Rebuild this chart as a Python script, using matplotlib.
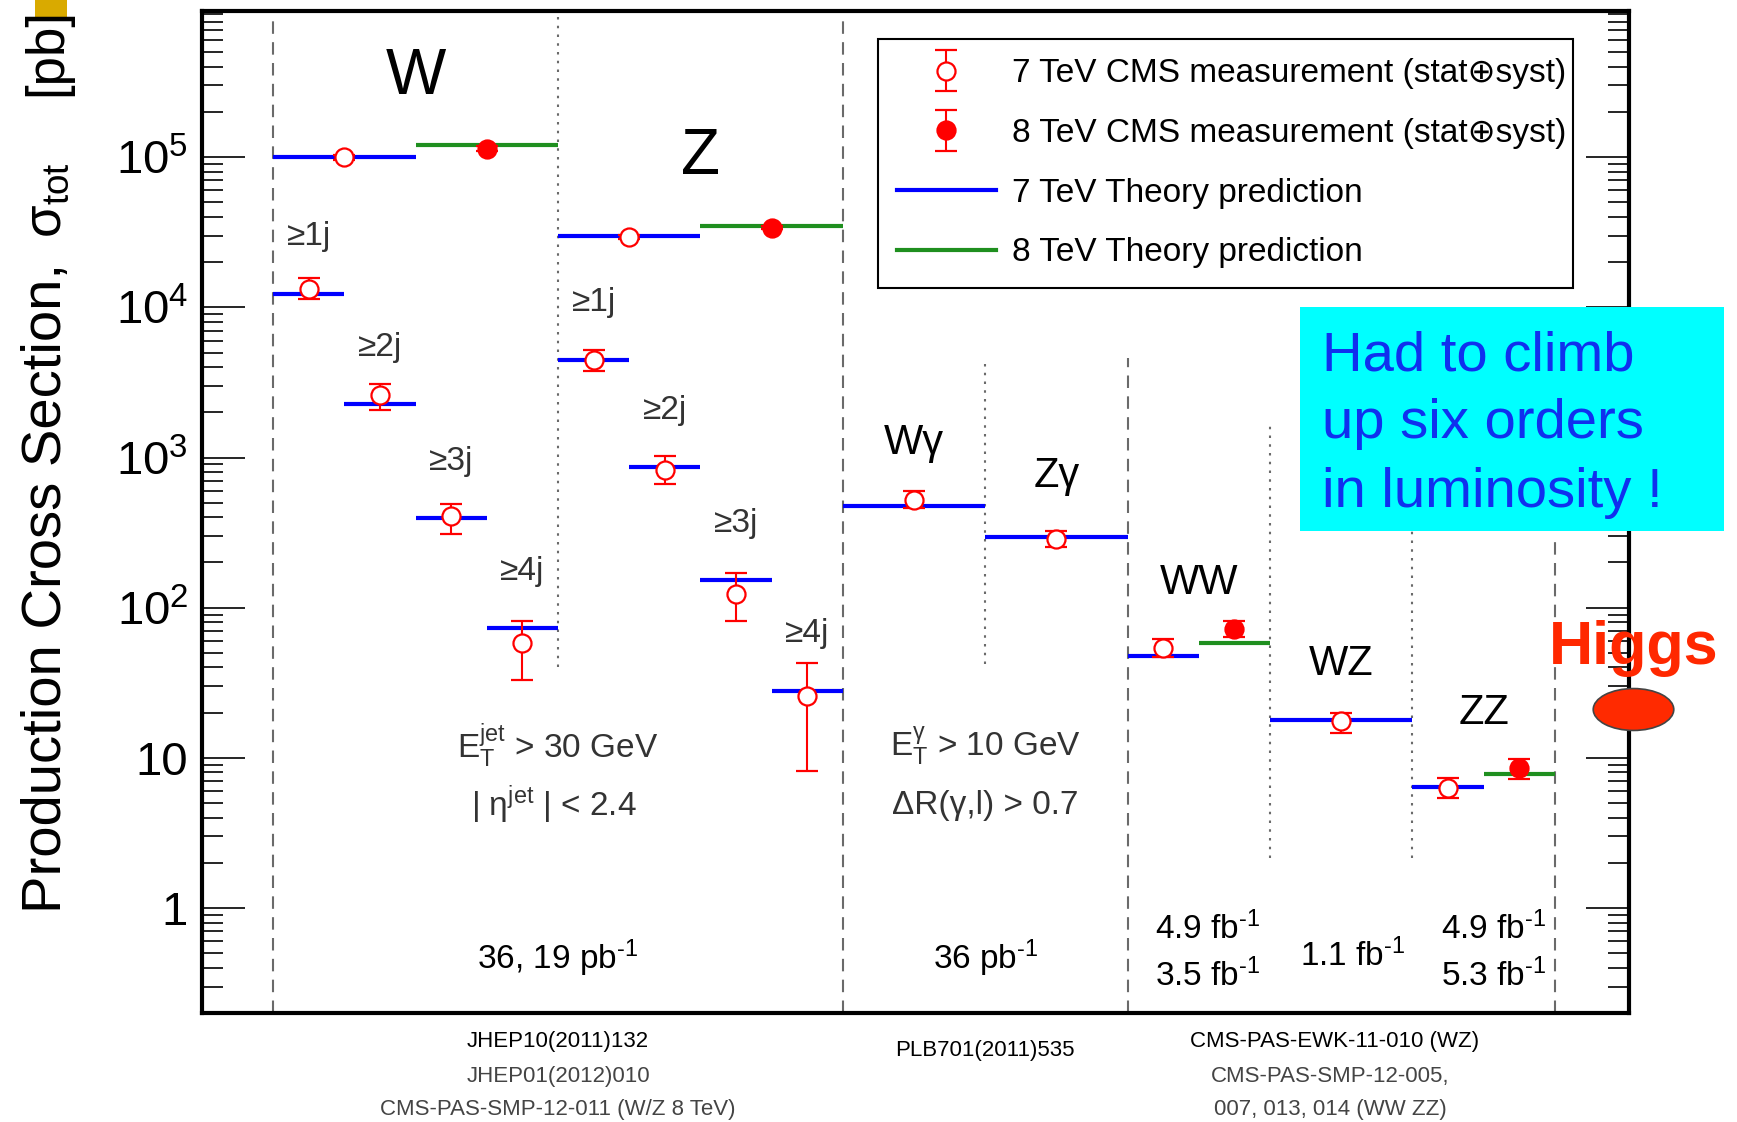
import matplotlib
matplotlib.use("Agg")
import matplotlib.pyplot as plt
import numpy as np
from matplotlib.path import Path
from matplotlib.patches import Rectangle
from matplotlib.lines import Line2D
from matplotlib.container import ErrorbarContainer
from matplotlib.legend_handler import HandlerErrorbar
from matplotlib.ticker import FixedLocator, FixedFormatter, LogLocator, NullFormatter

plt.rcParams['font.family'] = ['Liberation Sans', 'DejaVu Sans']
plt.rcParams['mathtext.fontset'] = 'custom'
plt.rcParams['mathtext.rm'] = 'Liberation Sans'
plt.rcParams['mathtext.it'] = 'Liberation Sans:italic'
plt.rcParams['mathtext.default'] = 'regular'

# 7 TeV: W, W+>=1..4j, Z, Z+>=1..4j, Wgamma, Zgamma, WW, WZ, ZZ  (pb)
slot7_lo = [0, 0, 0.5, 1, 1.5, 2, 2, 2.5, 3, 3.5, 4, 5, 6, 7, 8]
slot7_hi = [1, 0.5, 1, 1.5, 2, 3, 2.5, 3, 3.5, 4, 5, 6, 6.5, 8, 8.5]
theory7 = [1.0e5, 1.23e4, 2.26e3, 394, 73, 2.99e4, 4.47e3, 860, 152, 28, 475, 295, 48, 17.9, 6.4]
meas7 = [1.0e5, 1.32e4, 2.6e3, 405, 58, 2.95e4, 4.47e3, 830, 124, 26, 520, 285, 54, 17.5, 6.3]
meas7_lo = [9.6e4, 1.14e4, 2.08e3, 311, 33, 2.85e4, 3.78e3, 668, 81, 8.2, 460, 252, 47.3, 14.6, 5.4]
meas7_hi = [1.04e5, 1.57e4, 3.08e3, 492, 82, 3.05e4, 5.2e3, 1020, 169, 43, 600, 325, 62, 20.0, 7.3]

# 8 TeV: W, Z, WW, ZZ
slot8_lo = [1, 3, 6.5, 8.5]
slot8_hi = [2, 4, 7, 9]
theory8 = [1.21e5, 3.49e4, 58.6, 7.8]
meas8 = [1.14e5, 3.4e4, 72, 8.5]
meas8_lo = [1.10e5, 3.3e4, 63.4, 7.2]
meas8_hi = [1.18e5, 3.5e4, 81.8, 9.9]

jet_labels = ["≥1j", "≥2j", "≥3j", "≥4j"]
w_jet_idx = [1, 2, 3, 4]
z_jet_idx = [6, 7, 8, 9]

higgs_x = 9.55
higgs_xs = 21

ytick_vals = [1, 10, 1e2, 1e3, 1e4, 1e5]
ytick_labels = ["1", "10", "$10^{2}$", "$10^{3}$", "$10^{4}$", "$10^{5}$"]

lumi_texts = [(2.0, 0.46, "36, 19 pb"), (5.0, 0.46, "36 pb"),
              (6.56, 0.73, "4.9 fb"), (6.56, 0.355, "3.5 fb"),
              (7.58, 0.48, "1.1 fb"),
              (8.57, 0.73, "4.9 fb"), (8.57, 0.355, "5.3 fb")]

refs = [(2.0, -0.028, "JHEP10(2011)132", "black"),
        (2.0, -0.063, "JHEP01(2012)010", "#444444"),
        (2.0, -0.096, "CMS-PAS-SMP-12-011 (W/Z 8 TeV)", "#444444"),
        (5.0, -0.037, "PLB701(2011)535", "black"),
        (7.45, -0.028, "CMS-PAS-EWK-11-010 (WZ)", "black"),
        (7.42, -0.063, "CMS-PAS-SMP-12-005,", "#444444"),
        (7.42, -0.096, "007, 013, 014 (WW ZZ)", "#444444")]


def main():
    fig = plt.figure(figsize=(17.37, 11.22), dpi=100)
    ax = fig.add_axes([0.1163, 0.0971, 0.8215, 0.8931])
    ax.set_yscale('log')
    ax.set_xlim(-0.5, 9.52)
    ax.set_ylim(0.2, 9.4e5)

    # separators
    grey = '#6a6a6a'
    ax.vlines([0, 4], 0.2, 9.4e5, colors=grey, linestyles=(0, (6, 4)), lw=1.5, zorder=1)
    ax.vlines([6], 0.2, 4.6e3, colors=grey, linestyles=(0, (6, 4)), lw=1.5, zorder=1)
    ax.vlines([9], 0.2, 3.0e2, colors=grey, linestyles=(0, (6, 4)), lw=1.5, zorder=1)
    ax.vlines([2], 40, 9.4e5, colors=grey, linestyles=(0, (1.2, 3)), lw=1.5, zorder=1)
    ax.vlines([5], 42, 4.6e3, colors=grey, linestyles=(0, (1.2, 3)), lw=1.5, zorder=1)
    ax.vlines([7, 8], 2.15, 1.76e3, colors=grey, linestyles=(0, (1.2, 3)), lw=1.5, zorder=1)

    # theory
    ax.hlines(theory7, slot7_lo, slot7_hi, colors='#0000ff', lw=3, zorder=2)
    ax.hlines(theory8, slot8_lo, slot8_hi, colors='#1f8f1f', lw=3, zorder=2)

    # measurements
    x7 = (np.array(slot7_lo) + np.array(slot7_hi)) / 2
    m7 = np.array(meas7)
    e7 = [m7 - np.array(meas7_lo), np.array(meas7_hi) - m7]
    h7 = ax.errorbar(x7, m7, yerr=e7, fmt='o', color='red', mfc='white', mec='red',
                     ms=13, mew=1.6, elinewidth=1.5, capsize=8, capthick=1.5, zorder=4)
    x8 = (np.array(slot8_lo) + np.array(slot8_hi)) / 2
    m8 = np.array(meas8)
    e8 = [m8 - np.array(meas8_lo), np.array(meas8_hi) - m8]
    h8 = ax.errorbar(x8, m8, yerr=e8, fmt='o', color='red', mfc='red', mec='red',
                     ms=13, mew=1.6, elinewidth=1.5, capsize=8, capthick=1.5, zorder=4)

    # labels
    ax.text(1.0, 3.4e5, "W", fontsize=46, ha='center', va='center')
    ax.text(3.0, 1.0e5, "Z", fontsize=46, ha='center', va='center')
    for idxs in (w_jet_idx, z_jet_idx):
        for lab, i in zip(jet_labels, idxs):
            ax.text(x7[i], theory7[i] * 2.4, lab, fontsize=24, color='#333333',
                    ha='center', va='center')
    ax.text(4.5, 1.25e3, "Wγ", fontsize=30, ha='center', va='center')
    ax.text(5.5, 7.5e2, "Zγ", fontsize=30, ha='center', va='center')
    ax.text(6.5, 1.45e2, "WW", fontsize=30, ha='center', va='center')
    ax.text(7.5, 42, "WZ", fontsize=30, ha='center', va='center')
    ax.text(8.5, 20, "ZZ", fontsize=30, ha='center', va='center')

    ax.text(2.0, 12.1, r"E$_{T}^{jet}$ > 30 GeV", fontsize=24, color='#333333', ha='center', va='center')
    ax.text(1.97, 4.85, r"| η$^{jet}$ | < 2.4", fontsize=24, color='#333333', ha='center', va='center')
    ax.text(5.0, 12.1, r"E$_{T}^{γ}$ > 10 GeV", fontsize=24, color='#333333', ha='center', va='center')
    ax.text(5.0, 4.85, "ΔR(γ,l) > 0.7", fontsize=24, color='#333333', ha='center', va='center')

    for xl, yl, s in lumi_texts:
        ax.text(xl, yl, s + "$^{\u20101}$", fontsize=24, ha='center', va='center')

    for xr, yr, s, c in refs:
        ax.text(xr, yr, s, fontsize=16, color=c, ha='center', va='center',
                transform=ax.get_xaxis_transform(), clip_on=False)

    # Higgs
    circ = Path.unit_circle()
    ell = Path(circ.vertices * np.array([1.0, 0.52]), circ.codes)
    ax.plot([higgs_x], [higgs_xs], ls='none', marker=ell, ms=58, color='#ff2a00',
            mec='#444444', mew=1.2, clip_on=False, zorder=20)
    ax.text(higgs_x, 42, "Higgs", fontsize=44, fontweight='bold', color='#ff2800',
            ha='center', va='baseline', clip_on=False, zorder=21)

    # axes style
    for sp in ax.spines.values():
        sp.set_linewidth(3)
    ax.yaxis.set_major_locator(FixedLocator(ytick_vals))
    ax.yaxis.set_major_formatter(FixedFormatter(ytick_labels))
    ax.yaxis.set_minor_locator(LogLocator(base=10, subs=np.arange(2, 10)))
    ax.yaxis.set_minor_formatter(NullFormatter())
    ax.tick_params(which='both', direction='in', left=True, right=True,
                   top=False, bottom=False, labelbottom=False)
    ax.tick_params(which='major', length=31, width=1.2, labelsize=34, pad=10)
    ax.tick_params(which='minor', length=15, width=1.2)

    # legend
    l7 = Line2D([], [], color='#0000ff', lw=3)
    l8 = Line2D([], [], color='#1f8f1f', lw=3)
    leg = ax.legend([h7, h8, l7, l8],
                    ["7 TeV CMS measurement (stat⊕syst)",
                     "8 TeV CMS measurement (stat⊕syst)",
                     "7 TeV Theory prediction",
                     "8 TeV Theory prediction"],
                    handler_map={ErrorbarContainer: HandlerErrorbar(yerr_size=0.62)},
                    loc='upper left', bbox_to_anchor=(0.4737, 0.972, 0.487, 0),
                    mode='expand', fontsize=24, fancybox=False, framealpha=1,
                    edgecolor='black', borderpad=0.58, labelspacing=0.86,
                    handlelength=2.95, handletextpad=0.5, borderaxespad=0)
    leg.get_frame().set_linewidth(1.5)
    leg.set_zorder(6)

    # y title
    xb = 61 / 1737
    fig.text(xb, 1 - 263 / 1122, "Production Cross Section,", fontsize=40.5, rotation=90,
             rotation_mode='anchor', ha='right', va='baseline')
    fig.text(xb, 1 - 162 / 1122, r"σ$_{tot}$", fontsize=38, rotation=90,
             rotation_mode='anchor', ha='right', va='baseline')
    fig.text(xb, 1 - 8 / 1122, "[pb]", fontsize=38, rotation=90,
             rotation_mode='anchor', ha='right', va='baseline')
    fig.add_artist(Rectangle((35 / 1737, 1 - 18 / 1122), 32 / 1737, 18 / 1122,
                             transform=fig.transFigure, facecolor='#d9aa00',
                             edgecolor='none', zorder=0))

    # comment box
    fig.add_artist(Rectangle((0.7484, 0.5267), 0.2441, 0.1997, transform=fig.transFigure,
                             facecolor='#00ffff', edgecolor='none', zorder=10))
    for yb, s in [(0.6702, "Had to climb"), (0.6096, "up six orders"), (0.5481, "in luminosity !")]:
        fig.text(0.761, yb, s, fontsize=40.5, color='#1030ee', va='baseline', zorder=11)

    fig.savefig("out.png", dpi=100)


if __name__ == "__main__":
    main()
